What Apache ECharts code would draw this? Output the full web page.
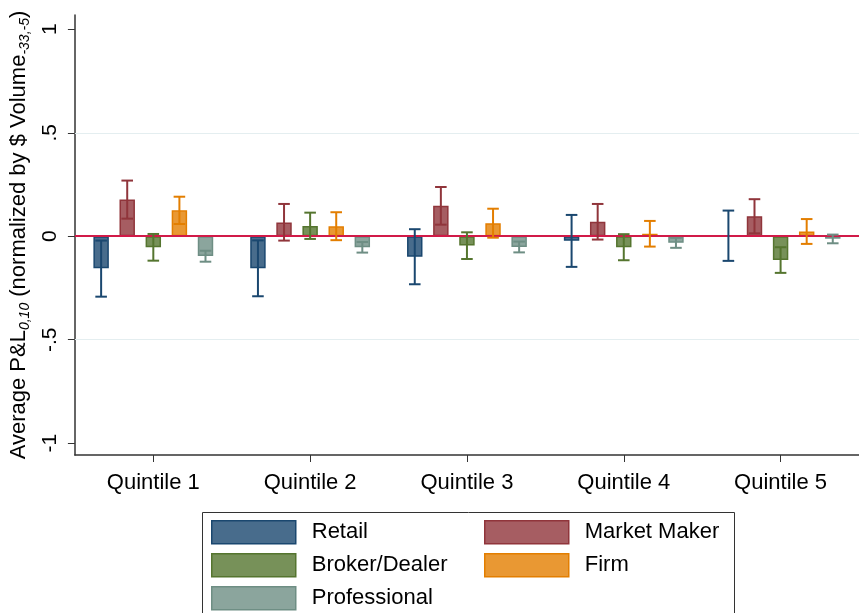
<!DOCTYPE html>
<html>
<head>
<meta charset="utf-8">
<script src="https://cdn.jsdelivr.net/npm/echarts@6/dist/echarts.min.js"></script>
<style>
  html, body { margin: 0; padding: 0; background: #fff; }
  #chart { width: 859px; height: 613px; }
</style>
</head>
<body>
<div id="chart"></div>
<script>
// Quintile groups on the x axis
const categories = ['Quintile 1', 'Quintile 2', 'Quintile 3', 'Quintile 4', 'Quintile 5'];

// Mean P&L per trader type, with lower / upper confidence bounds
const retail     = [-0.155, -0.155, -0.099, -0.022, 0.003];
const retailLo   = [-0.292, -0.290, -0.232, -0.148, -0.119];
const retailHi   = [-0.021, -0.020, 0.034, 0.103, 0.124];

const marketMaker   = [0.177, 0.067, 0.147, 0.070, 0.097];
const marketMakerLo = [0.085, -0.021, 0.056, -0.016, 0.014];
const marketMakerHi = [0.269, 0.156, 0.238, 0.156, 0.179];

const brokerDealer   = [-0.053, 0.050, -0.045, -0.053, -0.115];
const brokerDealerLo = [-0.118, -0.013, -0.110, -0.116, -0.177];
const brokerDealerHi = [0.011, 0.114, 0.019, 0.010, -0.053];

const firm   = [0.125, 0.048, 0.063, 0.012, 0.023];
const firmLo = [0.059, -0.019, -0.007, -0.050, -0.037];
const firmHi = [0.191, 0.116, 0.133, 0.074, 0.083];

const professional   = [-0.096, -0.053, -0.052, -0.032, -0.012];
const professionalLo = [-0.123, -0.079, -0.078, -0.056, -0.034];
const professionalHi = [-0.070, -0.028, -0.026, -0.008, 0.008];

// Y axis tick labels and reference lines
const yTicks = [-1, -0.5, 0, 0.5, 1];
const gridValues = [-0.5, 0.5];
const zeroLine = 0;

const groups = [
  { name: 'Retail',        mean: retail,       lo: retailLo,       hi: retailHi,       color: '#1a476f' },
  { name: 'Market Maker',  mean: marketMaker,  lo: marketMakerLo,  hi: marketMakerHi,  color: '#90353b' },
  { name: 'Broker/Dealer', mean: brokerDealer, lo: brokerDealerLo, hi: brokerDealerHi, color: '#55752f' },
  { name: 'Firm',          mean: firm,         lo: firmLo,         hi: firmHi,         color: '#e37e00' },
  { name: 'Professional',  mean: professional, lo: professionalLo, hi: professionalHi, color: '#6e8e84' }
];

// Legend key slots: two columns, three rows
const legendSlots = [
  { left: 211, top: 520 }, { left: 484, top: 520 },
  { left: 211, top: 553 }, { left: 484, top: 553 },
  { left: 211, top: 586 }
];

const FONT = '"Liberation Sans", Arial, Helvetica, sans-serif';
const CAT_GAP = 0.236;
const BAR_GAP = 0.69;
const N = groups.length;

function fade(hex, a) {
  const r = parseInt(hex.slice(1, 3), 16), g = parseInt(hex.slice(3, 5), 16), b = parseInt(hex.slice(5, 7), 16);
  return 'rgba(' + r + ',' + g + ',' + b + ',' + a + ')';
}

function errorRenderer(idx, color) {
  return function (params, api) {
    const cat = api.value(0);
    const pLo = api.coord([cat, api.value(1)]);
    const pHi = api.coord([cat, api.value(2)]);
    const band = api.size([1, 0])[0];
    const groupW = band * (1 - CAT_GAP);
    const barW = groupW / (N + (N - 1) * BAR_GAP);
    const x = pLo[0] - groupW / 2 + barW / 2 + idx * barW * (1 + BAR_GAP);
    const half = barW * 0.375;
    const style = { stroke: color, lineWidth: 2, fill: null };
    return {
      type: 'group',
      children: [
        { type: 'line', shape: { x1: x, y1: pHi[1], x2: x, y2: pLo[1] }, style: style },
        { type: 'line', shape: { x1: x - half, y1: pHi[1], x2: x + half, y2: pHi[1] }, style: style },
        { type: 'line', shape: { x1: x - half, y1: pLo[1], x2: x + half, y2: pLo[1] }, style: style }
      ]
    };
  };
}

const series = [];
// Reference lines sit underneath the bars
series.push({
  name: 'reference lines',
  type: 'line',
  data: [],
  z: 1,
  silent: true,
  markLine: {
    silent: true,
    symbol: 'none',
    label: { show: false },
    animation: false,
    data: gridValues.map(function (v) {
      return { yAxis: v, lineStyle: { color: '#e4eef0', width: 1, type: 'solid' } };
    }).concat([{ yAxis: zeroLine, lineStyle: { color: '#d11a48', width: 2, type: 'solid' } }])
  }
});
groups.forEach(function (g) {
  series.push({
    name: g.name,
    type: 'bar',
    data: g.mean,
    barCategoryGap: (CAT_GAP * 100) + '%',
    barGap: (BAR_GAP * 100) + '%',
    itemStyle: { color: fade(g.color, 0.8), borderColor: g.color, borderWidth: 1.5 },
    z: 2
  });
});
groups.forEach(function (g, i) {
  series.push({
    name: g.name + ' CI',
    type: 'custom',
    renderItem: errorRenderer(i, g.color),
    encode: { x: 0, y: [1, 2] },
    data: categories.map(function (c, k) { return [k, g.lo[k], g.hi[k]]; }),
    z: 5,
    silent: true
  });
});

const legendText = { fontFamily: FONT, fontSize: 22, color: '#000', padding: [0, 0, 0, 11], lineHeight: 23 };
const legends = groups.map(function (g, i) {
  return {
    left: legendSlots[i].left, top: legendSlots[i].top, padding: 0,
    itemWidth: 84, itemHeight: 23, icon: 'rect', selectedMode: false, textStyle: legendText,
    data: [{ name: g.name, itemStyle: { color: fade(g.color, 0.8), borderColor: g.color, borderWidth: 1.5 } }]
  };
});

const chart = echarts.init(document.getElementById('chart'), null, { renderer: 'canvas' });
chart.setOption({
  animation: false,
  backgroundColor: '#fff',
  grid: { left: 73, top: 15, width: 787, bottom: 158, containLabel: false },
  legend: legends,
  graphic: [
    { type: 'rect', left: 200, top: 510, shape: { width: 532, height: 115 },
      style: { fill: null, stroke: '#333', lineWidth: 1 }, silent: true }
  ],
  xAxis: {
    type: 'category',
    data: categories,
    axisLine: { show: true, onZero: false, lineStyle: { color: '#333', width: 1.5 } },
    axisTick: { show: true, alignWithLabel: true, length: 7, lineStyle: { color: '#333', width: 1 } },
    axisLabel: { fontFamily: FONT, fontSize: 22, color: '#000', margin: 17 },
    splitLine: { show: false }
  },
  yAxis: {
    type: 'value',
    min: -1.057,
    max: 1.069,
    name: '{a|Average P&L}{s|0,10}{a| (normalized by $ Volume}{s|-33,-5}{a|)}',
    nameLocation: 'middle',
    nameRotate: 90,
    nameGap: 33,
    nameTextStyle: {
      rich: {
        a: { fontFamily: FONT, fontSize: 22, color: '#000', lineHeight: 26 },
        s: { fontFamily: FONT, fontSize: 14, fontStyle: 'italic', color: '#000', lineHeight: 14, verticalAlign: 'bottom' }
      }
    },
    axisLine: { show: true, lineStyle: { color: '#333', width: 1.5 } },
    axisTick: { show: true, length: 7, customValues: yTicks, lineStyle: { color: '#333', width: 1 } },
    axisLabel: {
      customValues: yTicks,
      rotate: 90,
      margin: 14,
      fontFamily: FONT, fontSize: 21, color: '#000',
      formatter: function (v) {
        if (v === 0) return '0';
        return String(v).replace(/^(-?)0\./, '$1.');
      }
    },
    splitLine: { show: false }
  },
  series: series
});
</script>
</body>
</html>
